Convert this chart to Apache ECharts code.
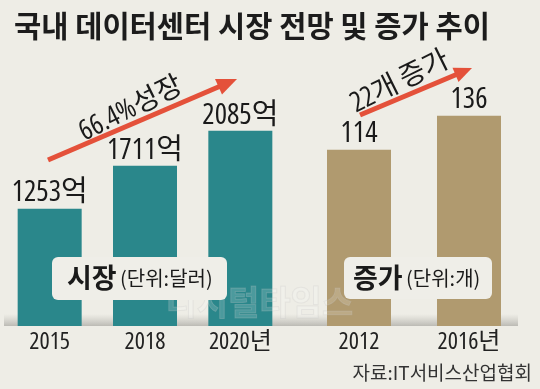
<!DOCTYPE html>
<html><head><meta charset="utf-8">
<script src="https://cdn.jsdelivr.net/npm/echarts@6/dist/echarts.min.js"></script>
<style>html,body{margin:0;padding:0;background:#eeede6;}#c{width:540px;height:389px;}</style>
</head><body><div id="c"></div>
<script>
// Data
const marketYears = ['2015', '2018', '2020년'];
const marketValues = [1253, 1711, 2085];
const marketLabels = ['1253억', '1711억', '2085억'];
const countYears = ['2012', '2016년'];
const countValues = [114, 136];
const titleText = '국내 데이터센터 시장 전망 및 증가 추이';
const sourceText = '자료:IT서비스산업협회';

// Use the width axis of Open Sans (condensed) for the narrow digits of the reference
(function(){
  const d = Object.getOwnPropertyDescriptor(CanvasRenderingContext2D.prototype, 'font');
  Object.defineProperty(CanvasRenderingContext2D.prototype, 'font', {
    configurable: true,
    get(){ return d.get.call(this); },
    set(v){
      const cond = String(v).indexOf('OSCond') >= 0;
      d.set.call(this, cond ? String(v).replace(/OSCond/g, "'Open Sans'") : v);
      try { this.fontStretch = cond ? 'condensed' : 'normal'; } catch(e) {}
    }
  });
})();

const NARROW = "OSCond,'Noto Sans CJK KR',sans-serif";
const CJK = "'Noto Sans CJK KR',sans-serif";
const chart = echarts.init(document.getElementById('c'));
chart.setOption({
  backgroundColor: '#eeede6',
  animation: false,
  title: { text: titleText, left: 9, top: 6,
    textStyle: { fontFamily: CJK, fontWeight: 'bold', fontSize: 29.6, color: '#1c1c1c' } },
  grid: [
    { left: 2, width: 286, top: 120, bottom: 63 },
    { left: 304, width: 220, top: 94, bottom: 63 }
  ],
  xAxis: [
    { gridIndex: 0, type: 'category', data: marketYears, axisLine: {show:false}, axisTick:{show:false},
      axisLabel: { interval: 0, fontFamily: NARROW, fontSize: 24, color: '#222', margin: 4 } },
    { gridIndex: 1, type: 'category', data: countYears, axisLine: {show:false}, axisTick:{show:false},
      axisLabel: { interval: 0, fontFamily: NARROW, fontSize: 24, color: '#222', margin: 4 } }
  ],
  yAxis: [
    { gridIndex: 0, type: 'value', min: 0, max: 2200, show: false },
    { gridIndex: 1, type: 'value', min: 0, max: 150, show: false }
  ],
  series: [
    { type: 'bar', xAxisIndex: 0, yAxisIndex: 0, data: marketValues, barWidth: 64, z: 3,
      itemStyle: { color: '#2a878b' },
      label: { show: true, position: 'top', distance: 1, fontFamily: NARROW, fontSize: 29, color: '#1a1a1a',
        formatter: p => marketLabels[p.dataIndex] } },
    { type: 'bar', xAxisIndex: 1, yAxisIndex: 1, data: countValues, barWidth: 64, z: 3,
      itemStyle: { color: '#b09a6f' },
      label: { show: true, position: 'top', distance: 1, fontFamily: NARROW, fontSize: 29, color: '#1a1a1a' } }
  ],
  graphic: [
    { type: 'rect', z: 1, shape: { x: 4, y: 314, width: 514, height: 12 },
      style: { fill: new echarts.graphic.LinearGradient(0,0,0,1,[{offset:0,color:'rgba(190,189,182,0)'},{offset:1,color:'rgba(175,174,168,0.8)'}]) } },
    // watermark
    { type: 'text', z: 4, left: 165, top: 285,
      style: { text: '디지털타임스', font: "bold 34px 'Noto Sans CJK KR'", fill: 'rgba(255,255,255,0.16)', stroke: 'rgba(190,190,190,0.25)', lineWidth: 1 } },
    // legend boxes
    { type: 'rect', z: 5, shape: { x: 52, y: 257, width: 175, height: 43, r: 6 }, style: { fill: '#efeee8' } },
    { type: 'text', z: 6, x: 67, y: 278,
      style: { text: '{b|시장} {n|(단위:달러)}', verticalAlign: 'middle',
        rich: { b: { fontFamily: CJK, fontWeight: 'bold', fontSize: 27, fill: '#1a1a1a' },
                n: { fontFamily: CJK, fontSize: 20, fill: '#1a1a1a' } } } },
    { type: 'rect', z: 5, shape: { x: 344, y: 257, width: 148, height: 42, r: 6 }, style: { fill: '#efeee8' } },
    { type: 'text', z: 6, x: 353, y: 278,
      style: { text: '{b|증가} {n|(단위:개)}', verticalAlign: 'middle',
        rich: { b: { fontFamily: CJK, fontWeight: 'bold', fontSize: 27, fill: '#1a1a1a' },
                n: { fontFamily: CJK, fontSize: 20, fill: '#1a1a1a' } } } },
    // arrows
    { type: 'line', z: 7, shape: { x1: 48, y1: 160, x2: 220, y2: 86.3 }, style: { stroke: '#e4513a', lineWidth: 5 } },
    { type: 'polygon', z: 7, shape: { points: [[237,79],[222,94.5],[215,79]] }, style: { fill: '#e4513a' } },
    { type: 'line', z: 7, shape: { x1: 360, y1: 115, x2: 457, y2: 74.3 }, style: { stroke: '#e4513a', lineWidth: 5 } },
    { type: 'polygon', z: 7, shape: { points: [[472,68],[458.5,82],[452.5,67.8]] }, style: { fill: '#e4513a' } },
    { type: 'text', z: 7, x: 131, y: 109, rotation: 0.46,
      style: { text: '66.4%성장', font: "28px OSCond,'Noto Sans CJK KR'", fill: '#1a1a1a', align: 'center', verticalAlign: 'middle' } },
    { type: 'text', z: 7, x: 400, y: 82, rotation: 0.46,
      style: { text: '22개 증가', font: "28px OSCond,'Noto Sans CJK KR'", fill: '#1a1a1a', align: 'center', verticalAlign: 'middle' } },
    { type: 'text', z: 7, x: 532, y: 373,
      style: { text: sourceText, font: "19px 'Noto Sans CJK KR'", fill: '#333', align: 'right', verticalAlign: 'middle' } }
  ]
});
</script></body></html>
